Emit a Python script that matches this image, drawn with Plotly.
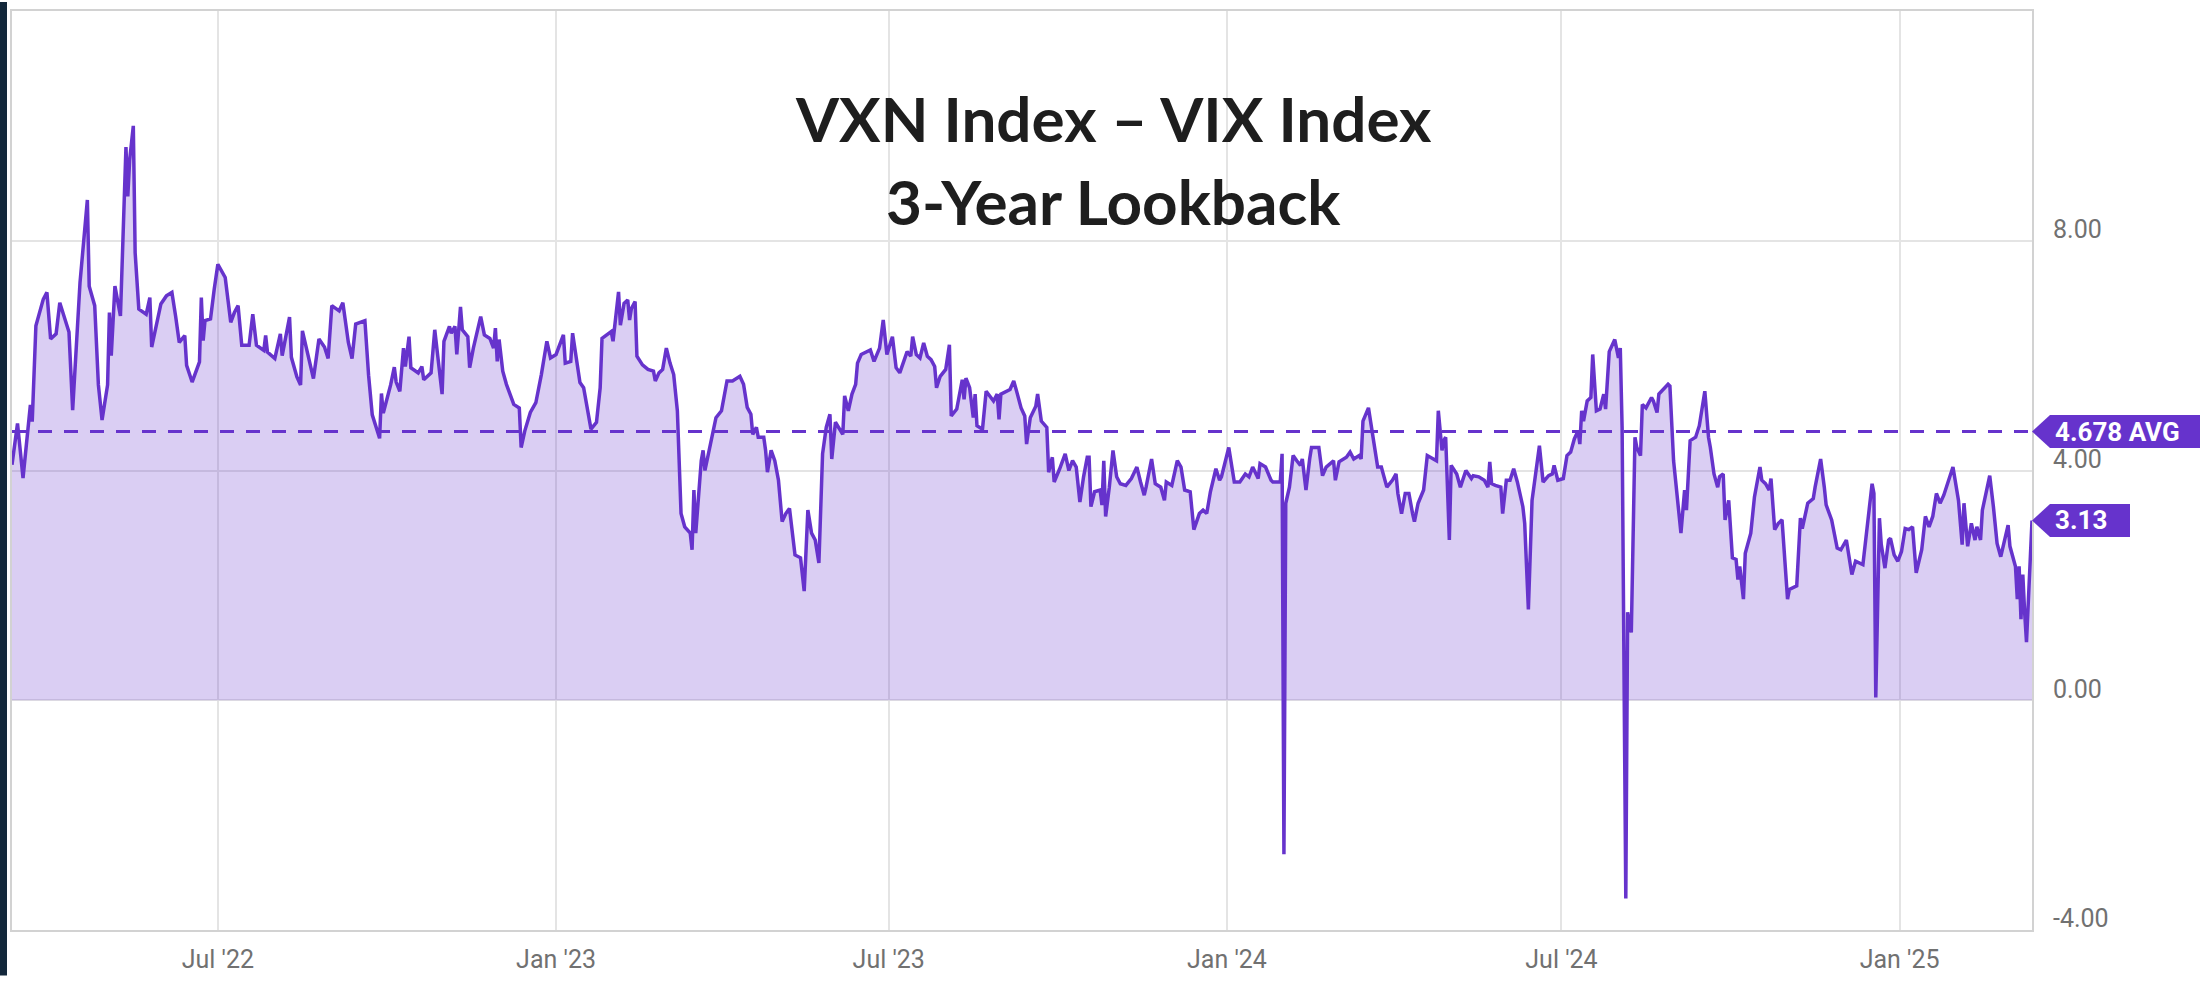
import plotly.graph_objects as go

# ---------------- data ----------------
DATES_2022 = [
    "2022-03-11", "2022-03-14", "2022-03-17", "2022-03-20", "2022-03-21", "2022-03-22", "2022-03-24", "2022-03-28", "2022-03-30",
    "2022-04-01", "2022-04-04", "2022-04-06", "2022-04-11", "2022-04-13", "2022-04-17", "2022-04-21", "2022-04-22", "2022-04-25", "2022-04-27", "2022-04-29",
    "2022-05-02", "2022-05-03", "2022-05-04", "2022-05-06", "2022-05-09", "2022-05-12", "2022-05-13", "2022-05-14", "2022-05-16", "2022-05-17",
    "2022-05-19", "2022-05-23", "2022-05-25", "2022-05-26", "2022-05-29", "2022-05-31",
    "2022-06-03", "2022-06-06", "2022-06-08", "2022-06-10", "2022-06-13", "2022-06-14", "2022-06-17", "2022-06-21", "2022-06-22", "2022-06-23",
    "2022-06-24", "2022-06-27", "2022-06-29",
    "2022-07-01", "2022-07-05", "2022-07-08", "2022-07-10", "2022-07-12", "2022-07-14", "2022-07-18", "2022-07-20", "2022-07-22", "2022-07-26",
    "2022-07-27", "2022-07-28",
    "2022-08-01", "2022-08-04", "2022-08-05", "2022-08-09", "2022-08-10", "2022-08-13", "2022-08-15", "2022-08-16", "2022-08-18", "2022-08-22",
    "2022-08-25", "2022-08-28", "2022-08-30",
    "2022-09-01", "2022-09-05", "2022-09-07", "2022-09-10", "2022-09-12", "2022-09-14", "2022-09-19", "2022-09-21", "2022-09-23", "2022-09-27",
    "2022-09-28", "2022-09-29",
    "2022-10-03", "2022-10-05", "2022-10-06", "2022-10-08", "2022-10-10", "2022-10-11", "2022-10-13", "2022-10-14", "2022-10-18", "2022-10-20",
    "2022-10-21", "2022-10-25", "2022-10-27", "2022-10-31",
    "2022-11-01", "2022-11-04", "2022-11-05", "2022-11-07", "2022-11-08", "2022-11-10", "2022-11-11", "2022-11-14", "2022-11-15", "2022-11-17",
    "2022-11-21", "2022-11-23", "2022-11-26", "2022-11-28", "2022-11-29", "2022-11-30",
    "2022-12-01", "2022-12-03", "2022-12-05", "2022-12-09", "2022-12-12", "2022-12-13", "2022-12-15", "2022-12-18", "2022-12-21", "2022-12-24",
    "2022-12-27", "2022-12-29",
]
VALUES_2022 = [
    4.10, 4.82, 3.87, 4.74, 5.14, 4.85, 6.52, 6.98, 7.10,
    6.29, 6.38, 6.92, 6.41, 5.05, 7.27, 8.71, 7.21, 6.87, 5.49, 4.88,
    5.49, 6.75, 6.00, 7.21, 6.69, 9.63, 8.77, 9.40, 10.00, 7.79,
    6.81, 6.72, 7.01, 6.15, 6.64, 6.90,
    7.04, 7.10, 6.69, 6.23, 6.35, 5.83, 5.54, 5.89, 7.01, 6.26,
    6.61, 6.64, 7.15,
    7.59, 7.36, 6.58, 6.75, 6.87, 6.18, 6.18, 6.72, 6.18, 6.09,
    6.35, 6.06,
    5.95, 6.38, 6.00, 6.67, 5.97, 5.63, 5.49, 6.43, 6.15, 5.60,
    6.29, 6.15, 5.95,
    6.87, 6.78, 6.92, 6.23, 5.95, 6.55, 6.61, 5.66, 4.97, 4.56,
    5.34, 5.00,
    5.49, 5.80, 5.54, 5.38, 6.13, 5.81, 6.33, 5.79, 5.70, 5.81,
    5.58, 5.70, 6.45, 5.33,
    6.25, 6.51, 6.39, 6.51, 6.02, 6.85, 6.45, 6.33, 5.79, 6.13,
    6.68, 6.36, 6.30, 6.13, 6.48, 5.90,
    6.28, 5.73, 5.50, 5.15, 5.09, 4.40, 4.69, 5.01, 5.18, 5.67,
    6.25, 5.96,
]

DATES_2023 = [
    "2023-01-01", "2023-01-05", "2023-01-06", "2023-01-09", "2023-01-10", "2023-01-12", "2023-01-14", "2023-01-16", "2023-01-20", "2023-01-23",
    "2023-01-25", "2023-01-26", "2023-01-31",
    "2023-02-01", "2023-02-04", "2023-02-05", "2023-02-07", "2023-02-09", "2023-02-10", "2023-02-11", "2023-02-13", "2023-02-14", "2023-02-17",
    "2023-02-20", "2023-02-23", "2023-02-24", "2023-02-26", "2023-02-28",
    "2023-03-02", "2023-03-04", "2023-03-06", "2023-03-08", "2023-03-10", "2023-03-12", "2023-03-15", "2023-03-16", "2023-03-17", "2023-03-18",
    "2023-03-19", "2023-03-21", "2023-03-22", "2023-03-23", "2023-03-26", "2023-03-29",
    "2023-04-01", "2023-04-04", "2023-04-07", "2023-04-11", "2023-04-13", "2023-04-15", "2023-04-17", "2023-04-18", "2023-04-20", "2023-04-21",
    "2023-04-24", "2023-04-25", "2023-04-26", "2023-04-28", "2023-04-30",
    "2023-05-02", "2023-05-04", "2023-05-06", "2023-05-08", "2023-05-11", "2023-05-14", "2023-05-16", "2023-05-18", "2023-05-20", "2023-05-22",
    "2023-05-24", "2023-05-26", "2023-05-28", "2023-05-30", "2023-05-31",
    "2023-06-02", "2023-06-04", "2023-06-06", "2023-06-07", "2023-06-09", "2023-06-11", "2023-06-13", "2023-06-14", "2023-06-16", "2023-06-21",
    "2023-06-23", "2023-06-26", "2023-06-28", "2023-06-30",
    "2023-07-03", "2023-07-05", "2023-07-07", "2023-07-11", "2023-07-13", "2023-07-14", "2023-07-16", "2023-07-18", "2023-07-20", "2023-07-22",
    "2023-07-24", "2023-07-26", "2023-07-27", "2023-07-29",
    "2023-08-01", "2023-08-03", "2023-08-04", "2023-08-07", "2023-08-10", "2023-08-11", "2023-08-12", "2023-08-14", "2023-08-16", "2023-08-17",
    "2023-08-18", "2023-08-21", "2023-08-23", "2023-08-27", "2023-08-29", "2023-08-30", "2023-08-31",
    "2023-09-05", "2023-09-07", "2023-09-09", "2023-09-11", "2023-09-13", "2023-09-14", "2023-09-16", "2023-09-19", "2023-09-20", "2023-09-22",
    "2023-09-25", "2023-09-26", "2023-09-28", "2023-09-29",
    "2023-10-02", "2023-10-05", "2023-10-07", "2023-10-09", "2023-10-11", "2023-10-13", "2023-10-15", "2023-10-17", "2023-10-18", "2023-10-19",
    "2023-10-21", "2023-10-24", "2023-10-25", "2023-10-26", "2023-10-27", "2023-10-29", "2023-10-31",
    "2023-11-02", "2023-11-04", "2023-11-07", "2023-11-10", "2023-11-13", "2023-11-15", "2023-11-17", "2023-11-18", "2023-11-21", "2023-11-23",
    "2023-11-26", "2023-11-28", "2023-11-29",
    "2023-12-02", "2023-12-05", "2023-12-07", "2023-12-09", "2023-12-12", "2023-12-14", "2023-12-17", "2023-12-19", "2023-12-21", "2023-12-23",
    "2023-12-26", "2023-12-28", "2023-12-29", "2023-12-31",
]
VALUES_2023 = [
    6.02, 6.36, 5.87, 5.90, 6.39, 5.96, 5.53, 5.44, 4.72, 4.84,
    5.44, 6.30, 6.42,
    6.25, 7.11, 6.53, 6.91, 6.97, 6.62, 6.82, 6.94, 5.99, 5.84,
    5.76, 5.73, 5.56, 5.70, 5.76,
    6.13, 5.87, 5.67, 5.04, 3.25, 3.02, 2.91, 2.62, 3.66, 2.91,
    3.37, 4.17, 4.35, 4.00, 4.46, 4.92,
    5.04, 5.56, 5.56, 5.64, 5.50, 5.10, 4.98, 4.63, 4.75, 4.58,
    4.58, 4.35, 3.97, 4.35, 4.17,
    3.83, 3.11, 3.25, 3.34, 2.53, 2.48, 1.90, 3.31, 2.91, 2.79,
    2.39, 4.29, 4.75, 4.98, 4.20,
    4.84, 4.72, 4.63, 5.30, 5.04, 5.33, 5.50, 5.87, 6.02, 6.10,
    5.90, 6.13, 6.62, 6.02,
    6.33, 5.79, 5.70, 6.07, 5.99, 6.33, 6.02, 5.96, 6.22, 5.99,
    5.93, 5.81, 5.44, 5.64,
    5.76, 6.19, 4.95, 5.07, 5.58, 5.24, 5.61, 5.44, 4.92, 5.33,
    4.78, 4.72, 5.38, 5.21, 5.33, 4.89, 5.33,
    5.41, 5.56, 5.33, 5.09, 4.95, 4.46, 4.92, 5.12, 5.33, 4.86,
    4.75, 3.97, 4.23, 3.80,
    4.03, 4.29, 4.00, 4.17, 4.06, 3.45, 3.89, 4.23, 4.23, 3.37,
    3.63, 3.66, 3.40, 4.17, 3.20, 3.71, 4.35,
    3.89, 3.77, 3.74, 3.86, 4.06, 3.80, 3.57, 3.71, 4.20, 3.77,
    3.71, 3.48, 3.80,
    3.74, 4.17, 4.06, 3.66, 3.63, 2.97, 3.25, 3.31, 3.25, 3.63,
    4.03, 3.83, 3.89, 4.12,
]

DATES_2024 = [
    "2024-01-02", "2024-01-05", "2024-01-08", "2024-01-11", "2024-01-13", "2024-01-15", "2024-01-18", "2024-01-19", "2024-01-22", "2024-01-25",
    "2024-01-26", "2024-01-30", "2024-01-31",
    "2024-02-01", "2024-02-02", "2024-02-04", "2024-02-06", "2024-02-08", "2024-02-10", "2024-02-11", "2024-02-13", "2024-02-15", "2024-02-16",
    "2024-02-20", "2024-02-22", "2024-02-24", "2024-02-28", "2024-02-29",
    "2024-03-02", "2024-03-06", "2024-03-08", "2024-03-10", "2024-03-13", "2024-03-14", "2024-03-15", "2024-03-18", "2024-03-21", "2024-03-23",
    "2024-03-25", "2024-03-28", "2024-03-31",
    "2024-04-02", "2024-04-03", "2024-04-05", "2024-04-07", "2024-04-09", "2024-04-11", "2024-04-12", "2024-04-14", "2024-04-17", "2024-04-19",
    "2024-04-22", "2024-04-24", "2024-04-25", "2024-04-27", "2024-04-28", "2024-04-29",
    "2024-05-01", "2024-05-02", "2024-05-05", "2024-05-07", "2024-05-10", "2024-05-13", "2024-05-14", "2024-05-17", "2024-05-20", "2024-05-22",
    "2024-05-23", "2024-05-24", "2024-05-26", "2024-05-29", "2024-05-30",
    "2024-06-01", "2024-06-03", "2024-06-05", "2024-06-07", "2024-06-10", "2024-06-11", "2024-06-13", "2024-06-15", "2024-06-19", "2024-06-21",
    "2024-06-24", "2024-06-26", "2024-06-27", "2024-06-29",
    "2024-07-02", "2024-07-04", "2024-07-06", "2024-07-08", "2024-07-10", "2024-07-11", "2024-07-12", "2024-07-13", "2024-07-15", "2024-07-17",
    "2024-07-18", "2024-07-20", "2024-07-22", "2024-07-24", "2024-07-25", "2024-07-27", "2024-07-29", "2024-07-30",
    "2024-08-01", "2024-08-02", "2024-08-03", "2024-08-05", "2024-08-06", "2024-08-08", "2024-08-10", "2024-08-11", "2024-08-13", "2024-08-14",
    "2024-08-16", "2024-08-19", "2024-08-20", "2024-08-22", "2024-08-23", "2024-08-26", "2024-08-28", "2024-08-29", "2024-08-31",
    "2024-09-04", "2024-09-06", "2024-09-07", "2024-09-09", "2024-09-12", "2024-09-14", "2024-09-17", "2024-09-19", "2024-09-20", "2024-09-22",
    "2024-09-24", "2024-09-25", "2024-09-27", "2024-09-28", "2024-09-30",
    "2024-10-02", "2024-10-04", "2024-10-05", "2024-10-06", "2024-10-08", "2024-10-09", "2024-10-12", "2024-10-14", "2024-10-17", "2024-10-18",
    "2024-10-20", "2024-10-22", "2024-10-23", "2024-10-25", "2024-10-27", "2024-10-29",
    "2024-11-01", "2024-11-02", "2024-11-06", "2024-11-08", "2024-11-09", "2024-11-12", "2024-11-15", "2024-11-16", "2024-11-19", "2024-11-21",
    "2024-11-22", "2024-11-25", "2024-11-28", "2024-11-30",
    "2024-12-03", "2024-12-06", "2024-12-08", "2024-12-12", "2024-12-15", "2024-12-17", "2024-12-18", "2024-12-19", "2024-12-21", "2024-12-22",
    "2024-12-24", "2024-12-26", "2024-12-27", "2024-12-29", "2024-12-31",
]
VALUES_2024 = [
    4.40, 3.80, 3.80, 3.94, 3.89, 4.06, 3.86, 4.12, 4.06, 3.83,
    3.80, 3.80, 4.29,
    -2.68, 3.43, 3.71, 4.26, 4.17, 4.09, 4.20, 3.66, 4.20, 4.40,
    4.40, 3.91, 4.06, 4.17, 3.83,
    4.15, 4.23, 4.32, 4.20, 4.26, 4.20, 4.86, 5.09, 4.52, 4.06,
    4.06, 3.71, 3.83,
    3.94, 3.60, 3.25, 3.60, 3.60, 3.25, 3.11, 3.43, 3.66, 4.26,
    4.20, 4.17, 5.04, 4.35, 4.52, 4.58,
    2.79, 4.09, 3.94, 3.71, 4.00, 3.86, 3.91, 3.89, 3.83, 3.71,
    4.15, 3.77, 3.74, 3.71, 3.25,
    3.83, 3.83, 4.03, 3.80, 3.37, 3.08, 1.58, 3.48, 4.43, 3.80,
    3.91, 3.94, 4.09, 3.83,
    3.86, 4.26, 4.32, 4.55, 4.69, 4.46, 5.04, 4.86, 5.21, 5.27,
    6.02, 5.04, 5.07, 5.33, 5.07, 6.07, 6.22, 6.28,
    5.96, 6.13, 4.75, -3.45, 1.53, 1.18, 4.58, 4.40, 4.26, 5.15,
    5.09, 5.27, 5.21, 5.01, 5.33, 5.44, 5.50, 5.47, 4.17,
    2.91, 3.66, 3.31, 4.52, 4.58, 4.78, 5.38, 4.58, 4.40, 3.94,
    3.71, 3.89, 3.94, 3.14, 3.48,
    2.48, 2.45, 2.10, 2.33, 1.76, 2.56, 2.91, 3.54, 4.06, 3.83,
    3.77, 3.66, 3.86, 2.97, 3.08, 3.14,
    1.76, 1.93, 1.99, 3.17, 2.99, 3.43, 3.51, 3.71, 4.20, 3.71,
    3.40, 3.14, 2.65, 2.62,
    2.79, 2.19, 2.42, 2.36, 3.25, 3.77, 3.60, 0.05, 3.17, 2.71,
    2.30, 2.79, 2.82, 2.53, 2.42,
]

DATES_2025 = [
    "2025-01-02", "2025-01-04", "2025-01-06", "2025-01-08", "2025-01-10", "2025-01-13", "2025-01-15", "2025-01-17", "2025-01-19", "2025-01-21",
    "2025-01-23", "2025-01-25", "2025-01-30",
    "2025-02-02", "2025-02-04", "2025-02-05", "2025-02-07", "2025-02-09", "2025-02-11", "2025-02-12", "2025-02-14", "2025-02-15", "2025-02-19",
    "2025-02-21", "2025-02-23", "2025-02-25",
    "2025-03-01", "2025-03-02", "2025-03-05", "2025-03-06", "2025-03-07", "2025-03-08", "2025-03-09", "2025-03-10", "2025-03-11", "2025-03-14",
]
VALUES_2025 = [
    2.59, 2.99, 2.97, 3.02, 2.22, 2.62, 3.20, 3.02, 3.20, 3.60,
    3.43, 3.57, 4.06,
    3.48, 2.71, 3.43, 2.68, 3.08, 2.79, 3.02, 2.79, 3.31, 3.91,
    3.37, 2.73, 2.50,
    3.05, 2.68, 2.33, 1.76, 2.33, 1.41, 2.19, 1.53, 1.01, 3.13,
]

AVG_VALUE = 4.678
AVG_LABEL = "4.678 AVG"
X_START = "2022-03-11"
X_END = "2025-03-14"
X_TICK_DATES = ["2022-07-01", "2023-01-01", "2023-07-01", "2024-01-01", "2024-07-01", "2025-01-01"]
X_TICK_LABELS = ["Jul '22", "Jan '23", "Jul '23", "Jan '24", "Jul '24", "Jan '25"]
Y_TICKS = [-4, 0, 4, 8]
Y_RANGE = [-4, 12]
TITLE_LINES = ["VXN Index \u2013 VIX Index", "3-Year Lookback"]

# ---------------- styling ----------------
PURPLE = "#6633CC"
FILL = "rgba(102,51,204,0.24)"
GRID = "#e4e4e4"
AXIS_LINE = "#d2d2d2"
TICK_COLOR = "#717171"

W, H = 2200, 983
ML, MR, MT, MB = 12, 168, 9, 46
PW = W - ML - MR
PH = H - MT - MB

dates = DATES_2022 + DATES_2023 + DATES_2024 + DATES_2025
values = VALUES_2022 + VALUES_2023 + VALUES_2024 + VALUES_2025
last_value = values[-1]

fig = go.Figure()
fig.add_trace(go.Scatter(
    x=dates, y=values, mode="lines",
    line=dict(color=PURPLE, width=3.5),
    fill="tozeroy", fillcolor=FILL,
    hoverinfo="skip", showlegend=False,
))

def px_x(p):
    return (p - ML) / PW

def px_y(p):
    return (H - MB - p) / PH

shapes = []
# dark strip on the far left edge
shapes.append(dict(type="rect", xref="paper", yref="paper",
                   x0=px_x(0), x1=px_x(7), y0=px_y(H), y1=px_y(0),
                   fillcolor="#13283b", line=dict(width=0), layer="above"))
# average dashed line
shapes.append(dict(type="line", xref="paper", yref="y", x0=0, x1=1,
                   y0=AVG_VALUE, y1=AVG_VALUE,
                   line=dict(color=PURPLE, width=3, dash="14px,12px")))
# price tags
def tag(yval, width):
    return dict(type="path", xref="paper", yref="y",
                xsizemode="pixel", ysizemode="pixel",
                xanchor=1, yanchor=yval,
                path=f"M 0,0 L 18,16.5 L {width},16.5 L {width},-16.5 L 18,-16.5 Z",
                fillcolor=PURPLE, line=dict(width=0), layer="above")
shapes.append(tag(AVG_VALUE, 175))
shapes.append(tag(last_value, 98))

annotations = []
for text, ycap in zip(TITLE_LINES, [117, 201]):
    annotations.append(dict(
        text=f"<b>{text}</b>", xref="paper", yref="paper",
        x=px_x(1113), y=px_y(ycap), xanchor="center", yanchor="middle",
        showarrow=False, font=dict(family="Lato", size=62, color="#1e1e1e")))
annotations.append(dict(text=f"<b>{AVG_LABEL}</b>", xref="paper", yref="y",
                        x=1, y=AVG_VALUE, xanchor="left", yanchor="middle", xshift=21,
                        showarrow=False, font=dict(family="Roboto", size=26, color="white")))
annotations.append(dict(text=f"<b>{last_value:.2f}</b>", xref="paper", yref="y",
                        x=1, y=last_value, xanchor="left", yanchor="middle", xshift=21,
                        showarrow=False, font=dict(family="Roboto", size=26, color="white")))

fig.update_layout(
    width=W, height=H,
    margin=dict(l=ML, r=MR, t=MT, b=MB, pad=0),
    paper_bgcolor="white", plot_bgcolor="white",
    shapes=shapes, annotations=annotations,
    showlegend=False,
    xaxis=dict(
        type="date", range=[X_START, X_END],
        tickmode="array", tickvals=X_TICK_DATES, ticktext=X_TICK_LABELS,
        showgrid=True, gridcolor=GRID, gridwidth=1.5,
        showline=True, linecolor=AXIS_LINE, linewidth=2, mirror=True,
        ticks="", zeroline=False,
        tickfont=dict(family="Roboto", size=25, color=TICK_COLOR),
        ticklabelstandoff=6,
    ),
    yaxis=dict(
        side="right", range=Y_RANGE,
        tickmode="array", tickvals=Y_TICKS, ticktext=[f"{v:.2f}" for v in Y_TICKS],
        ticklabelposition="outside top",
        ticklabelshift=6,
        showgrid=True, gridcolor=GRID, gridwidth=1.5,
        showline=True, linecolor=AXIS_LINE, linewidth=2, mirror=True,
        ticks="", zeroline=False,
        tickfont=dict(family="Roboto", size=25, color=TICK_COLOR),
        ticklabelstandoff=14,
    ),
)

fig.write_html("out.html", config={"displayModeBar": False},
               post_script="document.body.style.margin='0';document.body.style.overflow='hidden';")
